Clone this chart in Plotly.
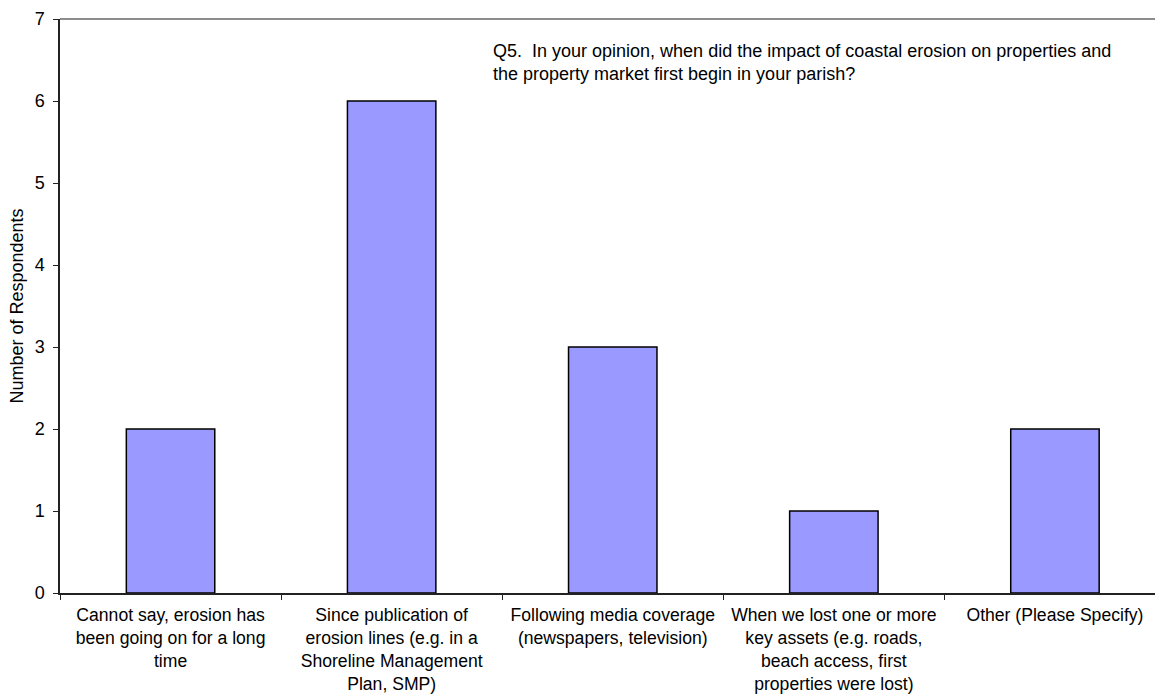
import plotly.graph_objects as go

# Survey responses for Q5
categories = [
    "Cannot say, erosion has<br>been going on for a long<br>time",
    "Since publication of<br>erosion lines (e.g. in a<br>Shoreline Management<br>Plan, SMP)",
    "Following media coverage<br>(newspapers, television)",
    "When we lost one or more<br>key assets (e.g. roads,<br>beach access, first<br>properties were lost)",
    "Other (Please Specify)",
]
respondents = [2, 6, 3, 1, 2]
y_ticks = [0, 1, 2, 3, 4, 5, 6, 7]

question = ("Q5.&nbsp; In your opinion, when did the impact of coastal erosion on properties and<br>"
            "the property market first begin in your parish?")

FONT = "Arial, Liberation Sans, sans-serif"

fig = go.Figure(
    go.Bar(
        x=categories,
        y=respondents,
        marker=dict(color="#9999FF", line=dict(color="#000000", width=1.5)),
        width=0.4,
    )
)

fig.update_layout(
    width=1155,
    height=695,
    margin=dict(l=60, r=0, t=19, b=102),
    paper_bgcolor="white",
    plot_bgcolor="white",
    showlegend=False,
    font=dict(family=FONT, size=18, color="#000000"),
)

fig.update_xaxes(
    type="category",
    range=[-0.5, 4.4525],
    automargin=False,
    showline=True,
    linecolor="#222222",
    linewidth=1.5,
    ticks="outside",
    tickson="boundaries",
    ticklen=5,
    tickcolor="#222222",
    tickwidth=1,
    showgrid=False,
    tickangle=0,
    ticklabelstandoff=5,
    tickfont=dict(size=17.6),
)

fig.update_yaxes(
    range=[0, 7],
    tickvals=y_ticks,
    automargin=False,
    showline=True,
    linecolor="#222222",
    linewidth=1.5,
    ticks="outside",
    ticklen=5,
    tickcolor="#222222",
    showgrid=False,
    zeroline=False,
    ticklabelstandoff=5,
    tickfont=dict(size=18),
    title=dict(text="Number of Respondents", font=dict(size=18), standoff=6),
)

# plot-area border along the top
fig.add_shape(type="line", xref="paper", yref="paper", x0=0, x1=1, y0=1, y1=1,
              line=dict(color="#8c8c8c", width=2))

fig.add_annotation(
    text=question,
    xref="paper", yref="y",
    x=0.394, y=6.47,
    xanchor="left", yanchor="middle",
    align="left",
    showarrow=False,
    font=dict(size=18),
)

fig.write_html("out.html")
